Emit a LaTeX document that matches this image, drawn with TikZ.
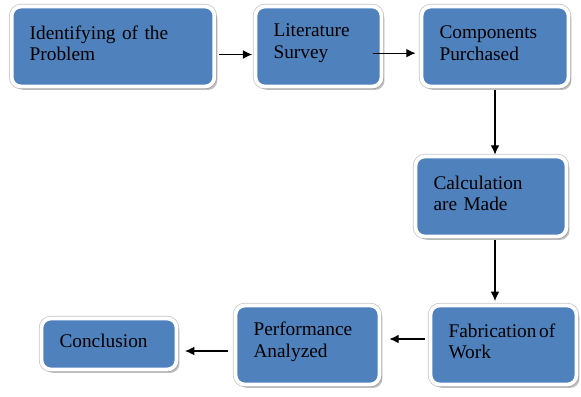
\documentclass[tikz,border=0pt]{standalone}
\usepackage{fontspec}
\setmainfont{Liberation Serif}
\usetikzlibrary{arrows.meta,shadows}
\definecolor{stageblue}{RGB}{79,129,189}
\begin{document}
\begin{tikzpicture}[x=0.75pt,y=-0.75pt,
    stage/.style={rectangle,rounded corners=7pt,fill=stageblue,draw=white,line width=2.8pt,
      preaction={draw=black!22,line width=4pt},
      drop shadow={shadow xshift=2.2pt,shadow yshift=-2.6pt,fill=black!50},
      minimum height=60pt,inner xsep=13.5pt,align=left,text width=#1,
      font=\rmfamily\fontsize{14.5}{16}\selectfont,
      execute at end node={\endgraf\vspace*{5pt}}},
    flow/.style={-{Latex[length=7pt,width=6.5pt]},line width=0.8pt}]
  \useasboundingbox (0,0) rectangle (581,396);
  \node[stage=125pt] (ident) at (113,46.5) {Identifying of the\\Problem};
  \node[stage=67.5pt] (lit) at (318.5,46.5) {Literature\\Survey};
  \node[stage=83.25pt] (comp) at (495,46.5) {Components\\Purchased};
  \node[stage=86.25pt] (calc) at (491,196.5) {Calculation\\are Made};
  \node[stage=82.5pt,minimum height=59.25pt] (fab) at (503.5,345) {\mbox{Fabrication\hspace{2pt}of}\\Work};
  \node[stage=81pt,minimum height=59.25pt] (perf) at (307.5,345) {Performance\\Analyzed};
  \node[stage=74.25pt,minimum height=38.25pt] (concl) at (109,344) {Conclusion};
  \draw[flow,shorten <=2pt,shorten >=1pt] ([yshift=-6pt]ident.east) -- ([yshift=-6pt]lit.west);
  \draw[flow,shorten >=3pt] ([xshift=-8pt,yshift=-5pt]lit.east) -- ([yshift=-5pt]comp.west);
  \draw[flow,shorten <=1pt] (comp.south) -- (comp.south |- calc.north);
  \draw[flow,shorten <=1pt,shorten >=2pt] ([xshift=3pt]calc.south) -- ([xshift=3pt]calc.south |- fab.north);
  \draw[flow,shorten <=3pt,shorten >=6pt] ([yshift=4.5pt]fab.west) -- ([yshift=4.5pt]perf.east);
  \draw[flow,shorten <=4pt,shorten >=5pt] ([yshift=-4.5pt]perf.west) -- ([yshift=-4.5pt]perf.west -| concl.east);
\end{tikzpicture}
\end{document}
